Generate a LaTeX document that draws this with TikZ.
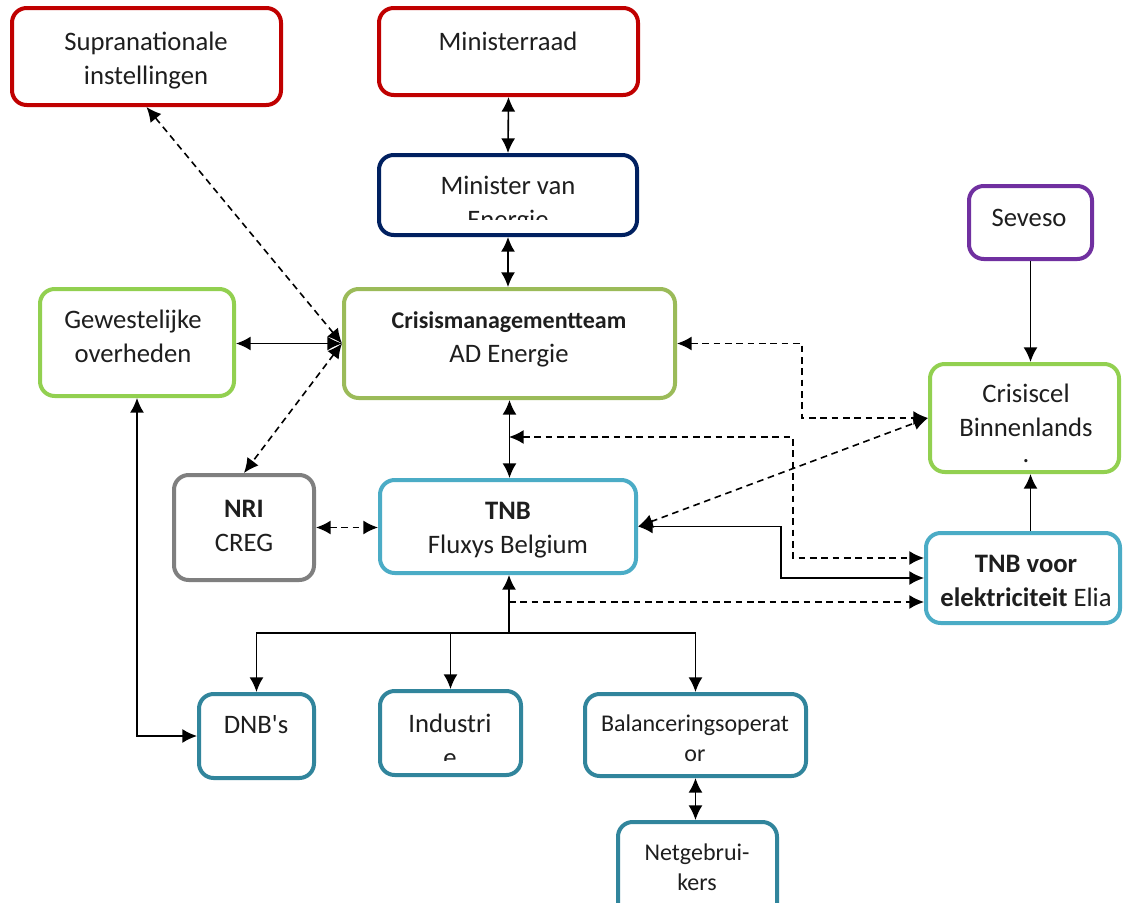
\documentclass[tikz,border=0pt]{standalone}
\usepackage{fontspec}
\setmainfont{Carlito}
\newfontfamily\plainq{Carlito}
\usetikzlibrary{arrows.meta,calc}
\definecolor{cred}{HTML}{C00000}
\definecolor{cnavy}{HTML}{002060}
\definecolor{cgreen}{HTML}{92D050}
\definecolor{colive}{HTML}{9BBB59}
\definecolor{cgray}{HTML}{7F7F7F}
\definecolor{cblue}{HTML}{4BACC6}
\definecolor{cpurple}{HTML}{7030A0}
\definecolor{cteal}{HTML}{31859C}
\definecolor{ctext}{HTML}{1E1E1E}
\begin{document}
\begin{tikzpicture}[x=0.75pt,y=-0.75pt,
  bx/.style={draw=#1, line width=3pt, rounded corners=11pt, fill=white},
  sz/.style args={#1/#2}{minimum width=#1*0.75pt, minimum height=#2*0.75pt, inner sep=0pt},
  txt/.style={align=center, font=\fontsize{20}{25.5}\selectfont, text=ctext, inner sep=0pt},
  stxt/.style={align=center, font=\fontsize{18}{22.5}\selectfont, text=ctext, inner sep=0pt},
  >={Latex[length=11pt,width=10.5pt]},
  con/.style={line width=1.2pt, draw=black},
  dcon/.style={con, dash pattern=on 5pt off 3.5pt}
]
\useasboundingbox (0,0) rectangle (1129,903);
\clip (0,0) rectangle (1129,903);
\fill[white] (0,0) rectangle (1129,903);

% boxes
\node[bx=cred, sz=269/97] (sup) at (146.5,56.5) {};
\node[bx=cred, sz=259/87] (mr) at (508.5,51.5) {};
\node[bx=cnavy, sz=258/80] (mve) at (508,195) {};
\node[bx=colive, sz=331/109] (cmt) at (509.5,343.5) {};
\node[bx=cgreen, sz=194/107] (gew) at (137,342.5) {};
\node[bx=cgray, sz=140/105] (nri) at (244,527.5) {};
\node[bx=cblue, sz=256/93] (tnb) at (508,526.5) {};
\node[bx=cpurple, sz=123/73] (sev) at (1030.5,222.5) {};
\node[bx=cgreen, sz=189/108] (cc) at (1024.5,418) {};
\node[bx=cblue, sz=194/90] (elia) at (1023,578) {};
\node[bx=cteal, sz=115/84] (dnb) at (256.5,736) {};
\node[bx=cteal, sz=141/84] (ind) at (450.5,733) {};
\node[bx=cteal, sz=221/82] (bal) at (695.5,735) {};
\node[bx=cteal, sz=159/111] (net) at (697.5,877.5) {};

% texts
\node[txt] (supt) at (146,61) {Supranationale\\instellingen};
\node[txt] (mrt) at (508,41) {Ministerraad};
\begin{scope}
\clip (377,153) rectangle (639,219);
\node[txt] (mvet) at (508,205) {Minister van\\Energie};
\end{scope}
\node[txt] (cmtt) at (509,339) {{\fontsize{18}{25}\selectfont\bfseries Crisismanagementteam}\\AD Energie};
\node[txt] (gewt) at (133,336) {Gewestelijke\\overheden};
\node[txt] (nrit) at (244,525.5) {\textbf{NRI}\\CREG};
\node[txt] (tnbt) at (508,530) {\textbf{TNB}\\Fluxys Belgium};
\node[txt] (sevt) at (1029,218) {Seveso};
\node[txt] (cct) at (1026,423) {Crisiscel\\Binnenlands\\[-6pt].};
\node[txt] (eliat) at (1026,581) {\textbf{TNB voor}\\\textbf{elektriciteit} Elia};
\node[txt] (dnbt) at (256,725) {DNB{\plainq '}s};
\begin{scope}
\clip (378,689) rectangle (523,760);
\node[txt] (indt) at (450,740.5) {Industri\\e};
\end{scope}
\node[stxt] (balt) at (695,738) {Balanceringsoperat\\or};
\node[stxt] (nett) at (697,867) {Netgebrui-\\kers};

% coordinates
\coordinate (j1) at (509,437);
\coordinate (j2) at (509,602);
\coordinate (j3) at (509,633);

% connectors
\draw[con,<->] (mr.south) -- (mve.north);
\draw[con,<->] (mve.south) -- (mve.south |- cmt.north);
\draw[con,<->] (cmt.west) -- (cmt.west -| gew.east);
\draw[dcon,<->] (cmt.west) -- (sup.south);
\draw[dcon,<->] (cmt.west) -- (nri.north);
\draw[dcon,<->] (nri.east) -- (nri.east -| tnb.west);
\draw[con,<->] (cmt.south) -- (cmt.south |- tnb.north);
\draw[dcon,<->] (j1) -- (793,437) |- ($(elia.west)+(0,-20)$);
\draw[dcon,<->] (cmt.east) -- (802,343.5) |- (cc.west);
\draw[dcon,<->] (tnb.east) -- (cc.west);
\draw[con,<->] (tnb.east) -- (781,526.5) |- (elia.west);
\draw[dcon,->] (j2) -- (j2 -| elia.west);
\draw[con,->] (j3) -- (j3 |- tnb.south);
\draw[con,->] (j3) -| (dnb.north);
\draw[con,->] (j3) -| (ind.north);
\draw[con,->] (j3) -| (bal.north);
\draw[con,<->] (bal.south) -- (bal.south |- net.north);
\draw[con,<->] (gew.south) |- (dnb.west);
\draw[con,->] (sev.south) -- (sev.south |- cc.north);
\draw[con,->] (elia.north -| sev.south) -- (cc.south -| sev.south);
\end{tikzpicture}
\end{document}
